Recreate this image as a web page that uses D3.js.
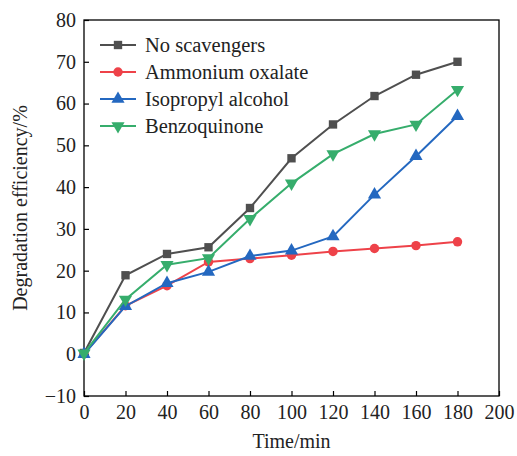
<!DOCTYPE html>
<html>
<head>
<meta charset="utf-8">
<script src="https://cdn.jsdelivr.net/npm/d3@7"></script>
<style>
  body { margin: 0; background: #fff; }
  text { font-family: "Liberation Serif", "Times New Roman", serif; }
</style>
</head>
<body>
<div class="vis-line"></div>
<script>
const times = [0, 20, 40, 60, 80, 100, 120, 140, 160, 180];
const noScavengers = [0.3, 18.9, 24.0, 25.6, 35.0, 46.9, 55.0, 61.8, 66.9, 70.0];
const ammoniumOxalate = [0.1, 11.6, 16.4, 22.1, 22.9, 23.7, 24.6, 25.3, 26.0, 26.9];
const isopropylAlcohol = [0, 11.5, 17.0, 19.7, 23.5, 24.8, 28.2, 38.2, 47.4, 57.0];
const benzoquinone = [0.2, 13.1, 21.4, 23.0, 32.4, 40.9, 47.9, 52.7, 55.0, 63.3];
const xTicks = [0, 20, 40, 60, 80, 100, 120, 140, 160, 180, 200];
const yTicks = [-10, 0, 10, 20, 30, 40, 50, 60, 70, 80];

const series = [
  { name: "No scavengers", values: noScavengers, color: "#4f4f4f", symbol: d3.symbolSquare, size: 70, rot: 0 },
  { name: "Ammonium oxalate", values: ammoniumOxalate, color: "#ee4249", symbol: d3.symbolCircle, size: 70, rot: 0 },
  { name: "Isopropyl alcohol", values: isopropylAlcohol, color: "#2468c0", symbol: d3.symbolTriangle, size: 75, rot: 0 },
  { name: "Benzoquinone", values: benzoquinone, color: "#36ad6c", symbol: d3.symbolTriangle, size: 75, rot: 180 }
];

const width = 517;
const height = 456;
const margin = { top: 20, right: 18, bottom: 60, left: 84 };

const svg = d3.select(".vis-line")
  .append("svg")
  .attr("width", width)
  .attr("height", height);

const xScale = d3.scaleLinear().domain([0, 200]).range([margin.left, width - margin.right]);
const yScale = d3.scaleLinear().domain([-10, 80]).range([height - margin.bottom, margin.top]);

// frame
svg.append("rect")
  .attr("x", margin.left)
  .attr("y", margin.top)
  .attr("width", xScale(200) - xScale(0))
  .attr("height", yScale(-10) - yScale(80))
  .attr("fill", "none")
  .attr("stroke", "#000")
  .attr("stroke-width", 1.3);

const xAxis = svg.append("g")
  .attr("transform", `translate(0,${yScale(-10)})`)
  .call(d3.axisBottom(xScale).tickValues(xTicks).tickSize(-5).tickPadding(9));
const yAxis = svg.append("g")
  .attr("transform", `translate(${xScale(0)},0)`)
  .call(d3.axisLeft(yScale).tickValues(yTicks).tickSize(-5).tickPadding(8)
    .tickFormat(d => d < 0 ? "\u2212" + Math.abs(d) : d));

[xAxis, yAxis].forEach(ax => {
  ax.select(".domain").remove();
  ax.selectAll(".tick line").attr("stroke", "#000").attr("stroke-width", 1.2);
  ax.selectAll("text")
    .attr("font-family", "Liberation Serif, serif")
    .attr("font-size", 20)
    .attr("fill", "#222");
});

// axis titles
svg.append("text")
  .attr("x", (xScale(0) + xScale(200)) / 2)
  .attr("y", 448)
  .attr("text-anchor", "middle")
  .attr("font-size", 20)
  .attr("fill", "#222")
  .text("Time/min");

svg.append("text")
  .attr("transform", `translate(27,${(yScale(-10) + yScale(80)) / 2}) rotate(-90)`)
  .attr("text-anchor", "middle")
  .attr("font-size", 20)
  .attr("fill", "#222")
  .text("Degradation efficiency/%");

const line = d3.line()
  .x((d, i) => xScale(times[i]))
  .y(d => yScale(d));

const g = svg.append("g");

series.forEach(s => {
  g.append("path")
    .datum(s.values)
    .attr("d", line)
    .attr("fill", "none")
    .attr("stroke", s.color)
    .attr("stroke-width", 2);

  g.selectAll(null)
    .data(s.values)
    .enter()
    .append("path")
    .attr("d", d3.symbol().type(s.symbol).size(s.size))
    .attr("transform", (d, i) => `translate(${xScale(times[i])},${yScale(d)}) rotate(${s.rot})`)
    .attr("fill", s.color);
});

// legend
const legend = svg.append("g").attr("transform", "translate(100,45)");
series.forEach((s, i) => {
  const row = legend.append("g").attr("transform", `translate(0,${i * 27})`);
  row.append("line")
    .attr("x1", 0).attr("x2", 36)
    .attr("stroke", s.color)
    .attr("stroke-width", 2);
  row.append("path")
    .attr("d", d3.symbol().type(s.symbol).size(s.size))
    .attr("transform", `translate(18,0) rotate(${s.rot})`)
    .attr("fill", s.color);
  row.append("text")
    .attr("x", 45)
    .attr("y", 7)
    .attr("font-size", 20.5)
    .attr("fill", "#222")
    .text(s.name);
});
</script>
</body>
</html>
